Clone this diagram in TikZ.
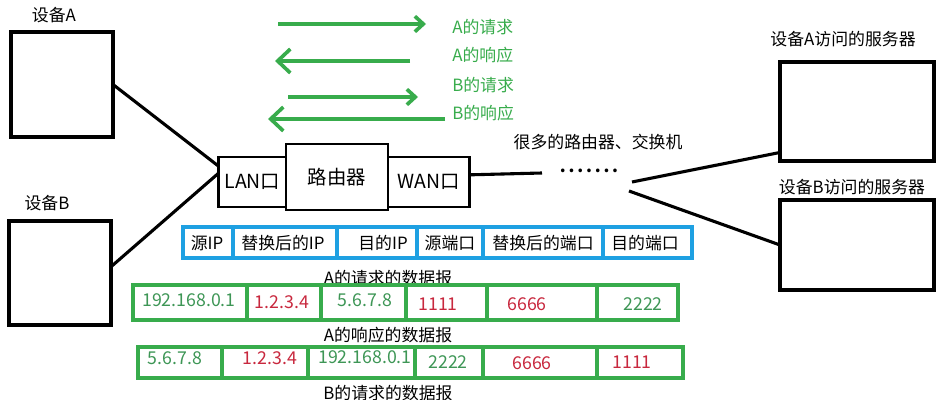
\documentclass[tikz,border=0pt]{standalone}
\usepackage{fontspec}
\setmainfont{Noto Sans CJK SC}
\usetikzlibrary{positioning, arrows.meta}
\definecolor{netgreen}{RGB}{56,172,76}
\definecolor{txtgreen}{RGB}{62,150,86}
\definecolor{txtred}{RGB}{200,40,62}
\definecolor{netblue}{RGB}{30,160,226}

\begin{document}
\begin{tikzpicture}[x=0.025cm, y=-0.025cm,
  font=\fontsize{12}{14}\selectfont,
  hostbox/.style={draw, line width=2.6pt, inner sep=0pt, outer sep=0pt},
  portbox/.style={draw, line width=2pt, inner sep=0pt, outer sep=0pt, minimum height=1.25cm,
    font=\fontsize{13.8}{16}\selectfont},
  wire/.style={line width=2.2pt},
  flowR/.style={netgreen, line width=2.6pt, -{Straight Barb[length=6pt, width=11pt]}},
  flowL/.style={netgreen, line width=2.6pt, -{Straight Barb[length=9pt, width=17pt]}},
  msg/.style={text=netgreen, anchor=west, inner sep=0pt},
  hdrrow/.style={netblue, line width=2.4pt},
  pktrow/.style={netgreen, line width=2.4pt},
  ipg/.style={text=txtgreen, inner sep=0pt, font=\fontsize{12.6}{14}\selectfont},
  ipr/.style={text=txtred, inner sep=0pt, font=\fontsize{12.6}{14}\selectfont}]
  \useasboundingbox (0,0) rectangle (942,400);

  % hosts on the left
  \node (devA) [hostbox, minimum width=2.55cm, minimum height=2.63cm] at (62,84.5) {};
  \node (labA) at (54,15) {设备A};
  \node (devB) [hostbox, minimum width=2.55cm, minimum height=2.6cm] at (60,273) {};
  \node (labB) at (47,203) {设备B};

  % router with its two ports
  \node (router) [portbox, minimum width=2.55cm, minimum height=1.65cm] at (337,177) {路由器};
  \node (lan) [portbox, minimum width=1.68cm, left=0pt of router, yshift=-0.125cm] {LAN口};
  \node (wan) [portbox, minimum width=2.03cm, right=0pt of router, yshift=-0.125cm] {WAN口};
  \draw[wire] (devA.east) -- (lan.155);
  \draw[wire] (devB.7) -- (lan.165);

  % out to the internet
  \coordinate (wanEnd) at (542,173);
  \draw[wire] (wan.10) -- (wanEnd);
  \node (dots) at (589,171) {\bfseries .\,.\,.\,.\,.\,.\,.};
  \node (many) at (598,142) {很多的路由器、交换机};
  \coordinate (fanA) at (632,182);
  \coordinate (fanB) at (629,191);

  % servers on the right
  \node (srvA) [hostbox, minimum width=3.85cm, minimum height=2.48cm] at (857,111.5) {};
  \node (srvAlab) at (843,39) {设备A访问的服务器};
  \node (srvB) [hostbox, minimum width=3.85cm, minimum height=2.25cm] at (857,245) {};
  \node (srvBlab) at (852,187) {设备B访问的服务器};
  \draw[wire] (fanA) -- (srvA.208);
  \draw[wire] (fanB) -- (srvB.west);

  % request / response arrows
  \node (reqA) [msg] at (452,27) {A的请求};
  \node (rspA) [msg] at (452,55) {A的响应};
  \node (reqB) [msg] at (452,85) {B的请求};
  \node (rspB) [msg] at (452,113) {B的响应};
  \coordinate (reqAs) at (278,24);  \coordinate (reqAe) at (426,24);
  \coordinate (rspAs) at (410,61);  \coordinate (rspAe) at (275,61);
  \coordinate (reqBs) at (288,97);  \coordinate (reqBe) at (418,97);
  \coordinate (rspBs) at (445,119); \coordinate (rspBe) at (268,119);
  \draw[flowR] (reqAs) -- (reqAe);
  \draw[flowL] (rspAs) -- (rspAe);
  \draw[flowR] (reqBs) -- (reqBe);
  \draw[flowL] (rspBs) -- (rspBe);

  % header of the NAT table
  \draw[hdrrow] (183,227) rectangle (692,258);
  \foreach \x in {233,337,417,483,603} \draw[hdrrow] (\x,227) -- (\x,258);
  \node (h1) at (207,243) {源IP};
  \node (h2) at (283,243) {替换后的IP};
  \node (h3) at (383,243) {目的IP};
  \node (h4) at (450,243) {源端口};
  \node (h5) at (543,243) {替换后的端口};
  \node (h6) at (645,243) {目的端口};

  % A's request
  \node (pkt1) at (388,278) {A的请求的数据报};
  \draw[pktrow] (133,285) rectangle (678,320);
  \foreach \x in {247,321,406,487,597} \draw[pktrow] (\x,285) -- (\x,320);
  \node (c11) [ipg] at (189,300) {192.168.0.1};
  \node (c12) [ipr] at (282,302) {1.2.3.4};
  \node (c13) [ipg] at (365,300) {5.6.7.8};
  \node (c14) [ipr] at (438,304) {1111};
  \node (c15) [ipr] at (527,304) {6666};
  \node (c16) [ipg] at (643,304) {2222};

  % A's response
  \node (pkt2) at (388,335) {A的响应的数据报};
  \draw[pktrow] (138,347) rectangle (683,378);
  \foreach \x in {222,308,415,483,597} \draw[pktrow] (\x,347) -- (\x,378);
  \node (c21) [ipg] at (175,358) {5.6.7.8};
  \node (c22) [ipr] at (270,358) {1.2.3.4};
  \node (c23) [ipg] at (365,357) {192.168.0.1};
  \node (c24) [ipg] at (448,362) {2222};
  \node (c25) [ipr] at (532,363) {6666};
  \node (c26) [ipr] at (632,362) {1111};

  % B's request (cut off by the page edge)
  \node (pkt3) at (388,393) {B的请求的数据报};
\end{tikzpicture}
\end{document}
